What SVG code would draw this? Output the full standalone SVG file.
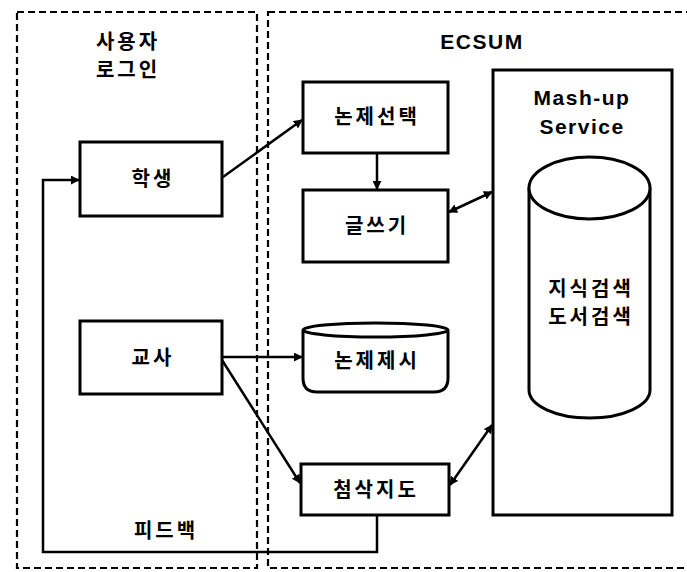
<svg xmlns="http://www.w3.org/2000/svg" width="687" height="572" viewBox="0 0 687 572">
<defs>
<marker id="arr" viewBox="0 0 10 10" refX="9" refY="5" markerWidth="9" markerHeight="9" markerUnits="userSpaceOnUse" orient="auto-start-reverse">
<path d="M0,0 L10,5 L0,10 z" fill="#000"/>
</marker>
</defs>
<style>
.box{fill:#fff;stroke:#000;stroke-width:3}
.zone{fill:none;stroke:#000;stroke-width:2.2;stroke-dasharray:7 4}
.ln{fill:none;stroke:#000;stroke-width:2.5}
.ko{font-family:"Noto Sans CJK KR","Noto Sans",sans-serif;font-weight:bold;font-size:20px;letter-spacing:3px;text-anchor:middle;fill:#000}
.en{font-family:"Liberation Sans",Arial,sans-serif;font-weight:bold;font-size:21px;letter-spacing:1.5px;text-anchor:middle;fill:#000}
</style>
<rect width="687" height="572" fill="#fff"/>
<g id="zone-login">
<rect class="zone" x="17" y="12" width="240" height="556"/>
<text class="ko" x="128" y="49">사용자</text>
<text class="ko" x="128" y="77">로그인</text>
</g>
<g id="zone-ecsum">
<rect class="zone" x="268" y="12" width="425" height="556"/>
<text class="en" x="482" y="49">ECSUM</text>
</g>
<g id="student">
<rect class="box" x="80" y="142" width="142" height="74"/>
<text class="ko" x="153" y="186">학생</text>
</g>
<g id="teacher">
<rect class="box" x="80" y="321" width="142" height="73"/>
<text class="ko" x="153" y="365">교사</text>
</g>
<g id="topic-select">
<rect class="box" x="303" y="82" width="145" height="71"/>
<text class="ko" x="377" y="124">논제선택</text>
</g>
<g id="writing">
<rect class="box" x="303" y="190" width="145" height="72"/>
<text class="ko" x="377" y="233">글쓰기</text>
</g>
<g id="topic-present">
<path class="box" d="M303,330 V378 Q303,392 317,392 H434 Q448,392 448,378 V330 A72.5,7 0 0 0 303,330 A72.5,7 0 0 0 448,330"/>
<text class="ko" x="377" y="368">논제제시</text>
</g>
<g id="correction">
<rect class="box" x="301" y="464" width="148" height="51"/>
<text class="ko" x="376" y="497">첨삭지도</text>
</g>
<g id="mashup">
<rect class="box" x="493" y="70" width="179" height="445"/>
<text class="en" x="582" y="105">Mash-up</text>
<text class="en" x="582" y="134">Service</text>
<path class="box" d="M529,188 V390 A60.5,28 0 0 0 650,390 V188"/>
<ellipse class="box" cx="589.5" cy="188" rx="60.5" ry="31"/>
<text class="ko" x="591" y="296">지식검색</text>
<text class="ko" x="591" y="324">도서검색</text>
</g>
<g id="connectors">
<line class="ln" x1="223" y1="177" x2="302" y2="120" marker-end="url(#arr)"/>
<line class="ln" x1="377" y1="153" x2="377" y2="189" marker-end="url(#arr)"/>
<line class="ln" x1="449" y1="212" x2="492" y2="192" marker-start="url(#arr)" marker-end="url(#arr)"/>
<line class="ln" x1="222" y1="357" x2="302" y2="357" marker-end="url(#arr)"/>
<line class="ln" x1="222" y1="360" x2="300" y2="483" marker-end="url(#arr)"/>
<line class="ln" x1="450" y1="485" x2="492" y2="425" marker-start="url(#arr)" marker-end="url(#arr)"/>
<path class="ln" d="M377,515 V552 H43 V180 H79" marker-end="url(#arr)"/>
<text class="ko" x="166" y="538">피드백</text>
</g>
</svg>
